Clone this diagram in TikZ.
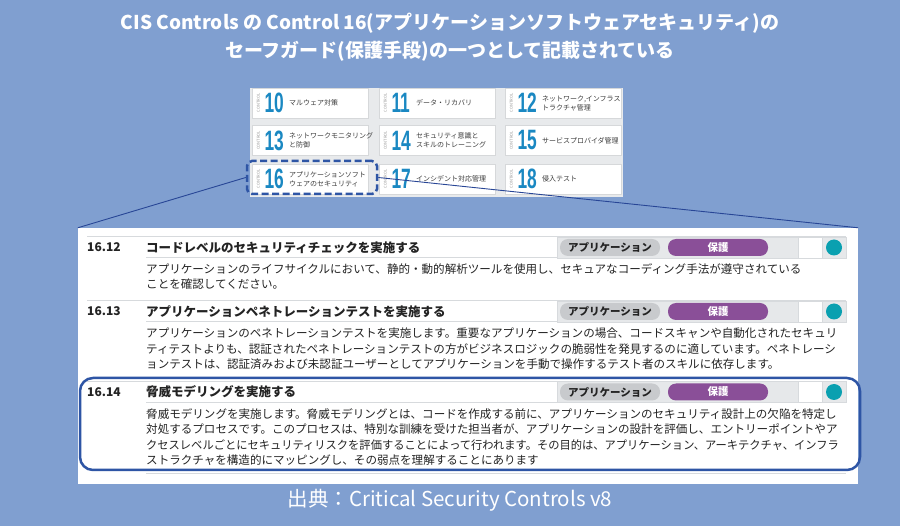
\documentclass[tikz,border=0pt]{standalone}
\usepackage{fontspec}
\setmainfont{Noto Sans CJK JP}
\newfontfamily\numfont[FakeStretch=0.62]{Liberation Sans}
\usetikzlibrary{positioning}

\definecolor{bgblue}{RGB}{128,159,208}
\definecolor{gridgray}{RGB}{232,234,236}
\definecolor{cardline}{RGB}{214,216,218}
\definecolor{cisblue}{RGB}{26,136,194}
\definecolor{ctrlgray}{RGB}{150,150,150}
\definecolor{namegray}{RGB}{60,60,60}
\definecolor{focusblue}{RGB}{46,85,165}
\definecolor{lineblue}{RGB}{40,70,150}
\definecolor{rulegray}{RGB}{215,218,221}
\definecolor{textgray}{RGB}{35,35,35}
\definecolor{bandgray}{RGB}{230,232,234}
\definecolor{pillgray}{RGB}{200,202,205}
\definecolor{protpurple}{RGB}{138,79,152}
\definecolor{dotteal}{RGB}{10,160,176}

\begin{document}
\begin{tikzpicture}[
    x=1pt, y=-1pt,
    heading/.style = {align=center, text=white, font=\bfseries\fontsize{19}{28}\selectfont},
    source/.style = {text=white, font=\fontsize{20.5}{24}\selectfont},
    card/.style = {rectangle, draw=cardline, fill=white, minimum width=116pt, minimum height=30pt, inner sep=0pt},
    ctrl/.style = {rotate=90, font=\fontsize{4}{4}\selectfont, text=ctrlgray, inner sep=0pt},
    cnum/.style = {anchor=west, font=\numfont\bfseries\fontsize{28}{28}\selectfont, text=cisblue, inner sep=0pt},
    cname/.style = {anchor=west, align=left, font=\fontsize{7}{9}\selectfont, text=namegray, inner sep=0pt},
    zoombox/.style = {rectangle, rounded corners=5pt, draw=focusblue, line width=2.5pt,
                      dash pattern=on 7pt off 3.5pt, minimum width=130pt, minimum height=33pt},
    zoomline/.style = {draw=lineblue, line width=0.9pt},
    panel/.style = {rectangle, fill=white, minimum width=780pt, minimum height=256pt, inner sep=0pt},
    hrule/.style = {draw=rulegray, line width=1pt},
    sgnum/.style = {anchor=west, font=\bfseries\fontsize{12}{14}\selectfont, text=textgray, inner sep=0pt},
    sgtitle/.style = {anchor=west, font=\bfseries\fontsize{12.5}{14}\selectfont, text=textgray, inner sep=0pt},
    sgtext/.style = {anchor=north west, align=left, font=\fontsize{11.55}{15.5}\selectfont, text=textgray, inner sep=0pt},
    band/.style = {rectangle, fill=bandgray, draw=rulegray, minimum width=289pt, minimum height=21pt, inner sep=0pt},
    cell/.style = {rectangle, fill=white, draw=rulegray, minimum width=24pt, minimum height=21pt, inner sep=0pt},
    apppill/.style = {rectangle, rounded corners=8pt, fill=pillgray, text=textgray, minimum width=100pt,
                      minimum height=17pt, inner sep=0pt, font=\bfseries\fontsize{10.5}{12}\selectfont},
    protpill/.style = {apppill, fill=protpurple, text=white},
    tealdot/.style = {circle, fill=dotteal, minimum size=16pt, inner sep=0pt},
    focus/.style = {rectangle, rounded corners=13pt, draw=focusblue, line width=2.5pt,
                    minimum width=780pt, minimum height=92pt}
]

% Background
\useasboundingbox (0,0) rectangle (900,526);
\fill[bgblue] (0,0) rectangle (900,526);

% Heading
\node[heading] (title) at (450,37) {CIS Controls の Control 16(アプリケーションソフトウェアセキュリティ)の\\セーフガード(保護手段)の一つとして記載されている};

% Control overview grid
\fill[gridgray] (250,88) rectangle (623,197);
\foreach \n/\cx/\cy/\name in {10/310/103/{マルウェア対策}, 11/437/103/{データ・リカバリ},
        12/563/103/{ネットワーク,インフラス\\トラクチャ管理}, 13/310/140.5/{ネットワークモニタリング\\と防御},
        14/437/140.5/{セキュリティ意識と\\スキルのトレーニング}, 15/563/140.5/{サービスプロバイダ管理},
        16/310/179/{アプリケーションソフト\\ウェアのセキュリティ}, 17/437/179/{インシデント対応管理},
        18/563/179/{侵入テスト}} {
    \node[card] (card\n) at (\cx,\cy) {};
    \node[ctrl] (ctrl\n) at ([xshift=6.5pt]card\n.west) {CONTROL};
    \node[cnum] (num\n) at ([xshift=12.5pt]card\n.west) {\n};
    \node[cname] (name\n) at ([xshift=37pt]card\n.west) {\name};
}
\node[zoombox] (c16box) at (312,177.5) {};

% Zoom lines
\node[panel] (panel) at (468,356) {};
\draw[zoomline] (c16box.west) -- (panel.north west);
\draw[zoomline] (c16box.east) -- (panel.north east);

% Badges and rules for each safeguard
\foreach \r/\y in {1612/247.5, 1613/311.5, 1614/392} {
    \draw[hrule] (87,\y-10.5) -- (846,\y-10.5);
    \draw[hrule] (146,\y+10.5) -- (846,\y+10.5);
    \node[band] (band\r) at (701.5,\y) {};
    \node[cell] (cell\r) at (810,\y) {};
    \node[apppill] (app\r) at (610,\y) {アプリケーション};
    \node[protpill] (prot\r) at (718,\y) {保護};
    \node[tealdot] (dot\r) at (834,\y) {};
}
\draw[hrule] (146,474) -- (846,474);

% Safeguard 16.12
\node[sgnum] (n1612) at (87,247.5) {16.12};
\node[sgtitle] (t1612) at (146,247.5) {コードレベルのセキュリティチェックを実施する};
\node[sgtext] (d1612) at (146,263) {アプリケーションのライフサイクルにおいて、静的・動的解析ツールを使用し、セキュアなコーディング手法が遵守されている\\ことを確認してください。};

% Safeguard 16.13
\node[sgnum] (n1613) at (87,311.5) {16.13};
\node[sgtitle] (t1613) at (146,311.5) {アプリケーションペネトレーションテストを実施する};
\node[sgtext] (d1613) at (146,328) {アプリケーションのペネトレーションテストを実施します。重要なアプリケーションの場合、コードスキャンや自動化されたセキュリ\\ティテストよりも、認証されたペネトレーションテストの方がビジネスロジックの脆弱性を発見するのに適しています。ペネトレーシ\\ョンテストは、認証済みおよび未認証ユーザーとしてアプリケーションを手動で操作するテスト者のスキルに依存します。};

% Safeguard 16.14
\node[sgnum] (n1614) at (87,392) {16.14};
\node[sgtitle] (t1614) at (146,392) {脅威モデリングを実施する};
\node[sgtext] (d1614) at (146,408) {脅威モデリングを実施します。脅威モデリングとは、コードを作成する前に、アプリケーションのセキュリティ設計上の欠陥を特定し\\対処するプロセスです。このプロセスは、特別な訓練を受けた担当者が、アプリケーションの設計を評価し、エントリーポイントやア\\\scalebox{0.975}[1]{クセスレベルごとにセキュリティリスクを評価することによって行われます。その目的は、アプリケーション、アーキテクチャ、インフラ}\\ストラクチャを構造的にマッピングし、その弱点を理解することにあります};
\node[focus] (focus) at (470,424) {};

% Source
\node[source] (src) at (450,500) {出典：Critical Security Controls v8};

\end{tikzpicture}
\end{document}
